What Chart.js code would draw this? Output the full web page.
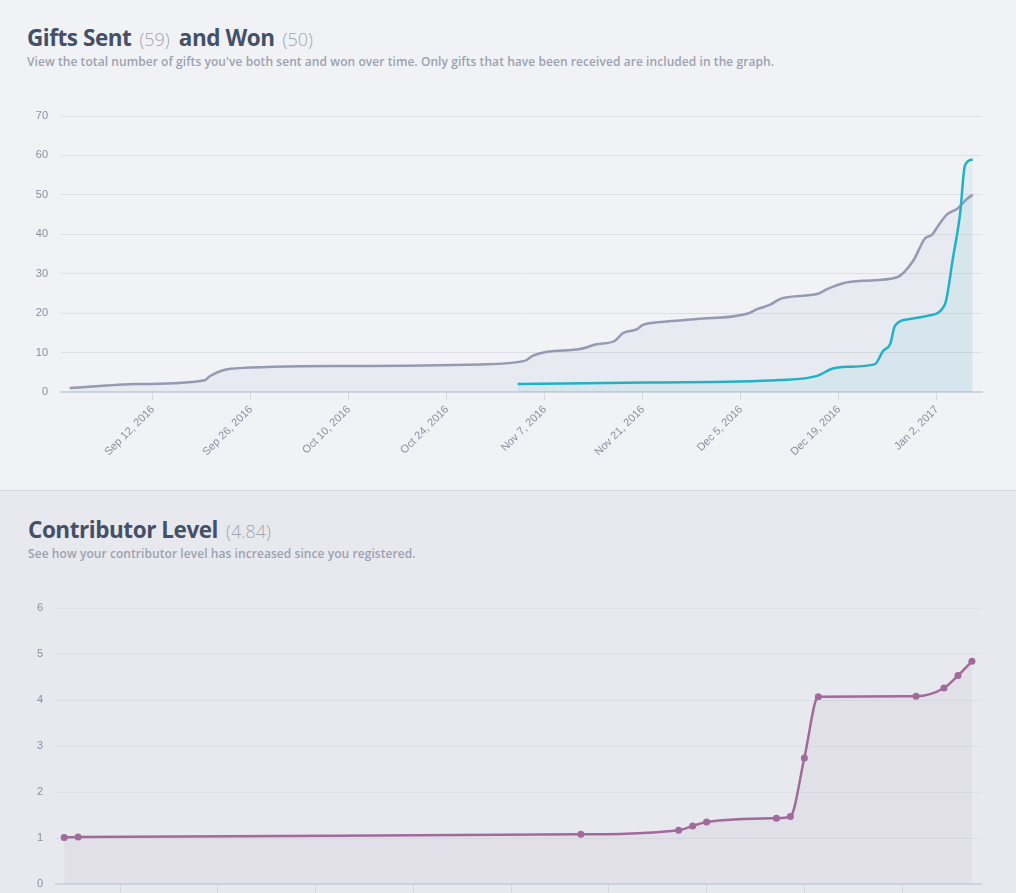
<!DOCTYPE html>
<html><head><meta charset="utf-8">
<script src="https://cdn.jsdelivr.net/npm/chart.js@4.4.1/dist/chart.umd.min.js"></script>
<style>
html,body{margin:0;padding:0;width:1016px;height:893px;overflow:hidden;position:relative;font-family:"Open Sans",sans-serif;}
#secTop{position:absolute;left:0;top:0;width:1016px;height:490px;background:#f0f2f5;}
#secBot{position:absolute;left:0;top:490px;width:1016px;height:403px;background:#e8e9ee;border-top:1px solid #d6d9e1;}
.title{position:absolute;left:27px;margin:0;font-size:22.5px;line-height:24px;font-weight:700;color:#435068;white-space:nowrap;letter-spacing:-0.45px;}
.title .cnt{font-size:18px;font-weight:300;color:#a2a6b2;letter-spacing:0;margin:0 9px 0 8px;}
.sub{position:absolute;left:27px;margin:0;font-size:12px;line-height:12px;font-weight:600;color:#9ca1b2;white-space:nowrap;letter-spacing:0.065px;}
.chartBox{position:absolute;left:0;width:1016px;}
</style></head>
<body>
<div id="secTop"></div>
<div id="secBot"></div>
<h2 class="title" style="top:26px">Gifts Sent<span class="cnt">(59)</span>and Won<span class="cnt">(50)</span></h2>
<p class="sub" style="top:56px">View the total number of gifts you've both sent and won over time. Only gifts that have been received are included in the graph.</p>
<div class="chartBox" style="top:100px;height:370px"><canvas id="giftsChart"></canvas></div>
<h2 class="title" style="top:518px;left:28px">Contributor Level<span class="cnt">(4.84)</span></h2>
<p class="sub" style="top:548px;left:28px">See how your contributor level has increased since you registered.</p>
<div class="chartBox" style="top:590px;height:372px"><canvas id="levelChart"></canvas></div>
<script>
// x values are days relative to Sep 12, 2016
const tickDays = [0, 14, 28, 42, 56, 70, 84, 98, 112];
const tickLabels = ['Sep 12, 2016','Sep 26, 2016','Oct 10, 2016','Oct 24, 2016','Nov 7, 2016','Nov 21, 2016','Dec 5, 2016','Dec 19, 2016','Jan 2, 2017'];

const sentDays   = [52.1, 70.6, 89.6, 94.9, 97.0, 99.1, 103.1, 104.3, 105.3, 106.0, 108.1, 110.6, 113.1, 114.3, 115.3, 116.0, 117.1];
const sentCounts = [2, 2.4, 3.05, 4.1, 5.9, 6.4, 7.0, 10.4, 12.1, 16.8, 18.5, 19.3, 22.1, 34.2, 45.2, 57.5, 59];

const wonDays   = [-11.9, -2.2, 7.4, 8.1, 11.1, 27.7, 46.7, 53.1, 54.3, 56.3, 61.0, 63.4, 66.0, 67.1, 69.1, 70.0, 72.9, 77.7, 85.0, 86.3, 88.1, 89.9, 95.0, 96.3, 98.6, 101.4, 106.3, 108.6, 110.3, 111.3, 112.1, 113.4, 114.9, 116.3, 117.1];
const wonCounts = [1, 2.0, 3, 4, 5.9, 6.6, 7.0, 7.9, 9.2, 10.2, 10.9, 12.1, 13.0, 14.9, 15.9, 17.0, 17.8, 18.5, 19.9, 21.0, 22.1, 23.8, 24.9, 26.1, 27.6, 28.2, 29.1, 33.3, 39.0, 39.9, 42, 45, 46.5, 49.0, 50];

const levelDays   = [-8, -6, 66, 80, 82, 84, 94, 96, 98, 100, 114, 118, 120, 122];
const levelValues = [1.01, 1.02, 1.08, 1.17, 1.26, 1.35, 1.43, 1.47, 2.74, 4.07, 4.08, 4.26, 4.53, 4.84];

const pts = (xs, ys) => xs.map((x, i) => ({x, y: ys[i]}));

Chart.defaults.font.family = '"Liberation Sans", Arial, sans-serif';
Chart.defaults.font.size = 11;

function xAxis(min, max) {
  return {
    type: 'linear', min, max,
    afterBuildTicks: s => { s.ticks = tickDays.map(v => ({value: v})); },
    afterFit: s => { s.height = 78; },
    ticks: { autoSkip: false, minRotation: 45, maxRotation: 45, color: '#8a8fa1', padding: 3,
      callback: v => { const i = tickDays.indexOf(v); return i >= 0 ? tickLabels[i] : ''; } },
    grid: { drawOnChartArea: false, drawTicks: true, tickLength: 8, color: '#d3d8e2', lineWidth: 1 },
    border: { display: true, color: '#cfd5df', width: 2 }
  };
}
function yAxis(max, step, w) {
  return {
    min: 0, max,
    afterFit: s => { s.width = w; s.paddingTop = 0; s.paddingBottom = 0; },
    ticks: { stepSize: step, color: '#8a8fa1', padding: 13 },
    grid: { color: '#dcdfe6', drawTicks: false },
    border: { display: false }
  };
}

new Chart(document.getElementById('giftsChart'), {
  type: 'line',
  data: { datasets: [
    { label: 'Sent', data: pts(sentDays, sentCounts), borderColor: '#1fb2c6', borderWidth: 2.5,
      backgroundColor: 'rgba(31,178,198,0.08)', fill: 'origin', pointRadius: 0, cubicInterpolationMode: 'monotone' },
    { label: 'Won', data: pts(wonDays, wonCounts), borderColor: '#959ab2', borderWidth: 2.5,
      backgroundColor: 'rgba(160,170,195,0.1)', fill: 'origin', pointRadius: 0, cubicInterpolationMode: 'monotone' }
  ]},
  options: {
    responsive: true, maintainAspectRatio: false, animation: false, devicePixelRatio: 1,
    layout: { padding: { left: 0, right: 34, top: 16, bottom: 0 } },
    plugins: { legend: { display: false }, tooltip: { enabled: false } },
    scales: { x: xAxis(-13.14, 118.43), y: yAxis(70, 10, 61) }
  }
});

new Chart(document.getElementById('levelChart'), {
  type: 'line',
  data: { datasets: [
    { label: 'Level', data: pts(levelDays, levelValues), borderColor: '#a06a9b', borderWidth: 2.5,
      backgroundColor: 'rgba(190,180,195,0.17)', fill: 'origin', pointRadius: 3.5,
      pointBackgroundColor: '#a06a9b', pointBorderWidth: 0, cubicInterpolationMode: 'monotone' }
  ]},
  options: {
    responsive: true, maintainAspectRatio: false, animation: false, devicePixelRatio: 1,
    layout: { padding: { left: 0, right: 35, top: 18, bottom: 0 } },
    plugins: { legend: { display: false }, tooltip: { enabled: false } },
    scales: { x: xAxis(-9.17, 123.3), y: yAxis(6, 1, 56) }
  }
});
</script>
</body></html>
